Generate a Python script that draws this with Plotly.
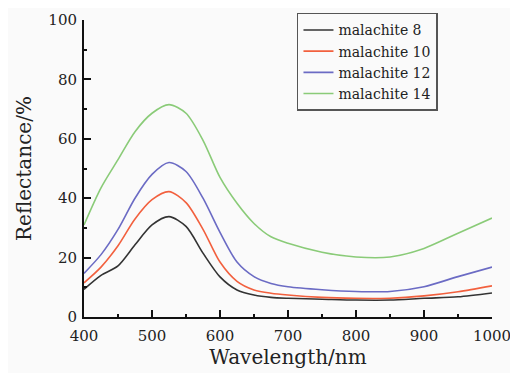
import plotly.graph_objects as go

wavelength = [400, 425, 450, 475, 500, 525, 550, 575, 600, 625, 650, 675, 700, 750, 800, 850, 900, 950, 1000]
malachite_8 = [9.3, 14, 17.2, 24.3, 31, 33.8, 30.5, 21.5, 13.5, 9.1, 7.4, 6.6, 6.3, 6.0, 5.7, 5.7, 6.3, 6.8, 8.1]
malachite_10 = [11.5, 16.8, 24, 33, 39.5, 42.2, 38.5, 29.5, 18.5, 12, 9.1, 8.0, 7.4, 6.6, 6.3, 6.3, 7.1, 8.5, 10.5]
malachite_12 = [14.7, 21, 29.5, 40, 48, 52, 49, 40, 28.5, 18.5, 13.6, 11.3, 10.2, 9.2, 8.6, 8.6, 10.2, 13.6, 16.8]
malachite_14 = [31, 43.5, 53, 62.4, 68.6, 71.5, 68.6, 59.5, 47, 38.3, 31.5, 27, 24.8, 21.8, 20.2, 20.2, 23.1, 28.2, 33.3]

series = [
    ("malachite 8", malachite_8, "#333333"),
    ("malachite 10", malachite_10, "#f2603e"),
    ("malachite 12", malachite_12, "#6b6bc4"),
    ("malachite 14", malachite_14, "#8acb78"),
]

x_ticks = [400, 500, 600, 700, 800, 900, 1000]
y_ticks = [0, 20, 40, 60, 80, 100]

fig = go.Figure()
for name, vals, col in series:
    fig.add_trace(go.Scatter(x=wavelength, y=vals, name=name, mode="lines",
                             line=dict(color=col, width=1.6, shape="spline", smoothing=0.8)))

font_family = "DejaVu Serif"
fig.update_layout(
    width=510, height=365,
    margin=dict(l=76, r=26, t=12, b=56, autoexpand=False),
    paper_bgcolor="#fafafa", plot_bgcolor="#fafafa",
    font=dict(family=font_family, color="#222222"),
    showlegend=True,
    legend=dict(x=0.522, y=1.024, xanchor="left", yanchor="top",
                bgcolor="rgba(0,0,0,0)", bordercolor="#555555", borderwidth=1.5,
                font=dict(family=font_family, size=14, color="#222222"),
                tracegroupgap=0, itemwidth=30),
)
fig.update_xaxes(
    range=[400, 1000], tickvals=x_ticks, ticks="inside", ticklen=7, tickwidth=2,
    tickcolor="#111111", showline=True, linecolor="#111111", linewidth=2,
    showgrid=False, zeroline=False, tickfont=dict(size=15, family=font_family),
    automargin=False, ticklabeloverflow="allow", ticklabelstandoff=4,
    minor=dict(dtick=50, ticks="inside", ticklen=3, tickwidth=1.5, tickcolor="#111111"),
    title=dict(text="Wavelength/nm", font=dict(size=20, family=font_family), standoff=4),
)
fig.update_yaxes(
    range=[0, 100], tickvals=y_ticks, ticks="inside", ticklen=7, tickwidth=2,
    tickcolor="#111111", showline=True, linecolor="#111111", linewidth=2,
    showgrid=False, zeroline=False, tickfont=dict(size=15, family=font_family),
    automargin=False, ticklabelstandoff=2, ticklabeloverflow="allow",
    minor=dict(dtick=10, ticks="inside", ticklen=3, tickwidth=1.5, tickcolor="#111111"),
    title=dict(text="Reflectance/%", font=dict(size=20, family=font_family), standoff=11),
)

fig.write_html("out.html")
